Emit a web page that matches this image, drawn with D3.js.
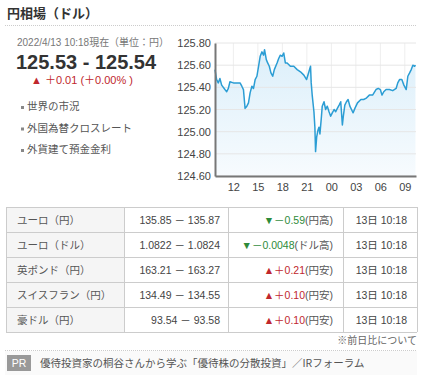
<!DOCTYPE html>
<html>
<head>
<meta charset="utf-8">
<script src="https://cdn.jsdelivr.net/npm/d3@7"></script>
<style>
  body { margin: 0; background: #fff; }
  svg text { font-family: "Liberation Sans", "Noto Sans CJK JP", sans-serif; }
  .jp { font-family: "Noto Sans CJK JP", sans-serif; }
</style>
</head>
<body>
<div id="chart"></div>
<script>
// USD/JPY intraday
const times = ["04-12 09:45","04-12 09:57","04-12 10:09","04-12 10:21","04-12 10:34","04-12 10:58","04-12 11:11","04-12 11:23","04-12 11:35","04-12 12:00",
  "04-12 12:25","04-12 12:49","04-12 13:02","04-12 13:14","04-12 13:26","04-12 13:39","04-12 13:51","04-12 14:03","04-12 14:16","04-12 14:28",
  "04-12 14:40","04-12 14:53","04-12 15:05","04-12 15:17","04-12 15:30","04-12 15:42","04-12 15:49","04-12 16:02","04-12 16:12","04-12 16:24",
  "04-12 16:36","04-12 16:49","04-12 17:01","04-12 17:21","04-12 17:33","04-12 17:45","04-12 17:58","04-12 18:10","04-12 18:22","04-12 18:35",
  "04-12 18:59","04-12 19:24","04-12 19:49","04-12 20:13","04-12 20:38","04-12 20:58","04-12 21:15","04-12 21:27","04-12 21:32","04-12 21:40",
  "04-12 21:52","04-12 21:59","04-12 22:04","04-12 22:12","04-12 22:21","04-12 22:29","04-12 22:36","04-12 22:46","04-12 22:53","04-12 23:06",
  "04-12 23:18","04-12 23:30","04-12 23:43","04-12 23:55","04-13 00:07","04-13 00:20","04-13 00:32","04-13 00:44","04-13 00:57","04-13 01:09",
  "04-13 01:21","04-13 01:29","04-13 01:39","04-13 01:51","04-13 02:03","04-13 02:16","04-13 02:28","04-13 02:40","04-13 02:53","04-13 03:12",
  "04-13 03:37","04-13 03:57","04-13 04:14","04-13 04:39","04-13 05:03","04-13 05:28","04-13 05:45","04-13 06:00","04-13 06:12","04-13 06:25",
  "04-13 06:42","04-13 07:07","04-13 07:31","04-13 07:56","04-13 08:08","04-13 08:21","04-13 08:38","04-13 08:53","04-13 09:10","04-13 09:22",
  "04-13 09:35","04-13 09:47","04-13 09:59","04-13 10:12","04-13 10:18"];
const rates = [125.56,125.47,125.44,125.48,125.42,125.38,125.36,125.39,125.45,125.44,
  125.44,125.44,125.41,125.38,125.21,125.23,125.26,125.35,125.41,125.39,
  125.47,125.50,125.59,125.68,125.72,125.69,125.74,125.65,125.62,125.59,
  125.53,125.50,125.56,125.62,125.66,125.69,125.68,125.71,125.62,125.62,
  125.59,125.59,125.56,125.54,125.51,125.47,125.54,125.59,125.44,125.32,
  125.18,125.04,124.82,124.95,125.01,125.04,124.98,125.12,125.23,125.27,
  125.20,125.23,125.18,125.14,125.17,125.20,125.18,125.21,125.24,125.27,
  125.06,125.15,125.24,125.27,125.29,125.23,125.20,125.17,125.21,125.26,
  125.29,125.29,125.30,125.33,125.33,125.38,125.39,125.38,125.33,125.36,
  125.38,125.38,125.37,125.39,125.44,125.47,125.47,125.42,125.38,125.50,
  125.53,125.56,125.60,125.59,125.60];
const yTicks = [124.6, 124.8, 125.0, 125.2, 125.4, 125.6, 125.8];
const xTickLabels = ["12","15","18","21","00","03","06","09"];
const xTickTimes = ["04-12 12:00","04-12 15:00","04-12 18:00","04-12 21:00","04-13 00:00","04-13 03:00","04-13 06:00","04-13 09:00"];

// cross rates table
const pairs = ["ユーロ（円）","ユーロ（ドル）","英ポンド（円）","スイスフラン（円）","豪ドル（円）"];
const quotes = ["135.85 － 135.87","1.0822 － 1.0824","163.21 － 163.27","134.49 － 134.55","93.54 － 93.58"];
const changes = ["－0.59","－0.0048","＋0.21","＋0.10","＋0.10"];
const changeNotes = ["(円高)","(ドル高)","(円安)","(円安)","(円安)"];
const updated = ["13日 10:18","13日 10:18","13日 10:18","13日 10:18","13日 10:18"];

const W = 422, H = 375;
const svg = d3.select("#chart").append("svg").attr("width", W).attr("height", H);

// header
svg.append("text").attr("class", "jp").attr("x", 7).attr("y", 18)
  .attr("font-size", 13).attr("font-weight", "bold").attr("fill", "#333").text("円相場（ドル）");
svg.append("line").attr("x1", 5).attr("x2", 417).attr("y1", 25.5).attr("y2", 25.5)
  .attr("stroke", "#ccc").attr("stroke-dasharray", "1,1");

svg.append("text").attr("x", 17).attr("y", 46).attr("font-size", 10.5).attr("fill", "#777")
  .attr("textLength", 152).attr("lengthAdjust", "spacingAndGlyphs")
  .text("2022/4/13 10:18現在（単位：円）");
svg.append("text").attr("x", 16).attr("y", 69).attr("font-size", 20).attr("font-weight", "bold")
  .attr("fill", "#333").text("125.53 - 125.54");
svg.append("text").attr("x", 31).attr("y", 84).attr("font-size", 11).attr("fill", "#c0272d")
  .text("▲ ＋0.01 (＋0.00% )");

const links = ["世界の市況","外国為替クロスレート","外貨建て預金金利"];
links.forEach((t, i) => {
  const y = 110 + i * 21.5;
  svg.append("rect").attr("x", 21).attr("y", y - 4).attr("width", 3).attr("height", 3).attr("fill", "#888");
  svg.append("text").attr("class", "jp").attr("x", 27).attr("y", y).attr("font-size", 10.5)
    .attr("fill", "#555").text(t);
});

// chart
const parse = d3.timeParse("%m-%d %H:%M");
const data = times.map((t, i) => ({ t: parse(t), v: rates[i] }));
const x = d3.scaleTime().domain([parse("04-12 09:45"), parse("04-13 10:22")]).range([215, 416]);
const y = d3.scaleLinear().domain([124.6, 125.8]).range([176, 43]);

const defs = svg.append("defs");
const grad = defs.append("linearGradient").attr("id", "fillg").attr("x1", 0).attr("x2", 0).attr("y1", 0).attr("y2", 1);
grad.append("stop").attr("offset", "0%").attr("stop-color", "#dcefFA");
grad.append("stop").attr("offset", "100%").attr("stop-color", "#f7fbfe");

const g = svg.append("g");
g.selectAll(".vgrid").data(xTickTimes).enter().append("line")
  .attr("x1", d => x(parse(d))).attr("x2", d => x(parse(d)))
  .attr("y1", 43).attr("y2", 176).attr("stroke", "#eee");

g.append("path").datum(data)
  .attr("d", d3.area().x(d => x(d.t)).y0(176).y1(d => y(d.v)))
  .attr("fill", "url(#fillg)");

g.selectAll(".hgrid").data(yTicks).enter().append("line")
  .attr("x1", 215).attr("x2", 416).attr("y1", d => y(d)).attr("y2", d => y(d))
  .attr("stroke", "#e6e6e6");

g.append("path").datum(data)
  .attr("d", d3.line().x(d => x(d.t)).y(d => y(d.v)))
  .attr("fill", "none").attr("stroke", "#2b9dd4").attr("stroke-width", 1.5)
  .attr("stroke-linejoin", "round");

const yAxis = svg.append("g").attr("transform", "translate(215,0)")
  .call(d3.axisLeft(y).tickValues(yTicks).tickSize(0).tickPadding(4).tickFormat(d3.format(".2f")));
const xAxis = svg.append("g").attr("transform", "translate(0,176)")
  .call(d3.axisBottom(x).tickValues(xTickTimes.map(parse)).tickSize(0).tickPadding(7)
    .tickFormat((d, i) => xTickLabels[i]));
[yAxis, xAxis].forEach(a => {
  a.select(".domain").attr("stroke", "#777").attr("stroke-width", 2);
  a.selectAll("text").attr("font-size", 11).attr("fill", "#444")
    .attr("font-family", "Liberation Sans, sans-serif");
});

// table
const tx = [6, 124, 228, 343, 417], ty0 = 207, rh = 25;
svg.append("rect").attr("x", tx[0]).attr("y", ty0).attr("width", tx[1] - tx[0]).attr("height", rh * 5).attr("fill", "#f5f5f5");
pairs.forEach((p, i) => {
  const yy = ty0 + i * rh + 16.5;
  svg.append("text").attr("class", "jp").attr("x", 17).attr("y", yy).attr("font-size", 10.5).attr("fill", "#555").text(p);
  svg.append("text").attr("x", 220).attr("y", yy).attr("text-anchor", "end").attr("font-size", 10.5).attr("fill", "#444").text(quotes[i]);
  const up = changes[i].startsWith("＋");
  const c = svg.append("text").attr("x", 333).attr("y", yy).attr("text-anchor", "end").attr("font-size", 10.5)
    .attr("fill", up ? "#c0272d" : "#2e8b3a");
  c.append("tspan").text((up ? "▲" : "▼") + changes[i]);
  c.append("tspan").attr("fill", "#555").text(changeNotes[i]);
  svg.append("text").attr("x", 407).attr("y", yy).attr("text-anchor", "end").attr("font-size", 10.5).attr("fill", "#444").text(updated[i]);
});
d3.range(6).forEach(i => svg.append("line").attr("x1", tx[0]).attr("x2", tx[4])
  .attr("y1", ty0 + i * rh + 0.5).attr("y2", ty0 + i * rh + 0.5).attr("stroke", "#ccc"));
tx.forEach(xx => svg.append("line").attr("x1", xx + 0.5).attr("x2", xx + 0.5)
  .attr("y1", ty0).attr("y2", ty0 + rh * 5).attr("stroke", "#ccc"));

svg.append("text").attr("x", 417).attr("y", 344).attr("text-anchor", "end").attr("font-size", 10)
  .attr("fill", "#666").text("※前日比について");

// PR line
svg.append("line").attr("x1", 5).attr("x2", 417).attr("y1", 350.5).attr("y2", 350.5)
  .attr("stroke", "#ccc").attr("stroke-dasharray", "1,1");
svg.append("rect").attr("x", 5).attr("y", 351).attr("width", 412).attr("height", 24).attr("fill", "#fafafa");
svg.append("rect").attr("x", 7).attr("y", 355).attr("width", 24).attr("height", 16).attr("fill", "#999");
svg.append("text").attr("x", 19).attr("y", 367).attr("text-anchor", "middle").attr("font-size", 10.5)
  .attr("fill", "#fff").text("PR");
svg.append("text").attr("class", "jp").attr("x", 40).attr("y", 367).attr("font-size", 10.5).attr("fill", "#555")
  .text("優待投資家の桐谷さんから学ぶ「優待株の分散投資」／IRフォーラム");
</script>
</body>
</html>
